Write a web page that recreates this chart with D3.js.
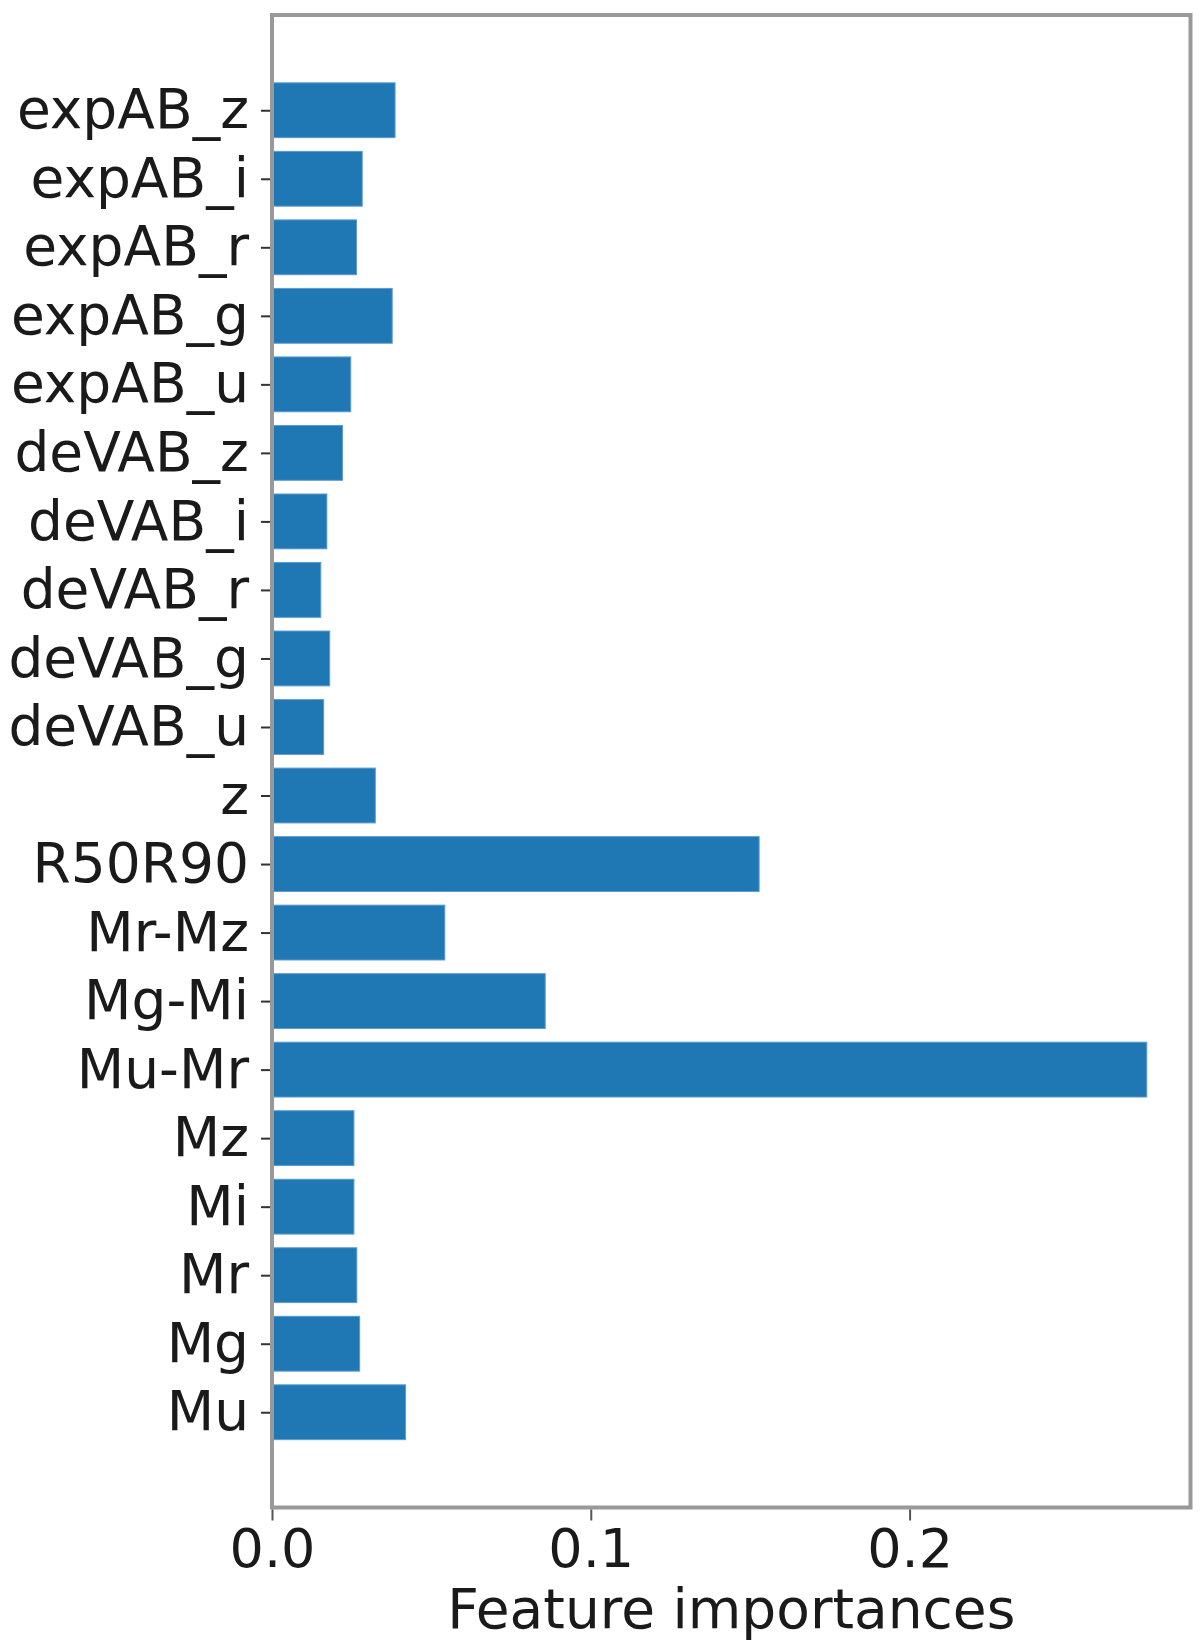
<!DOCTYPE html>
<html>
<head>
<meta charset="utf-8">
<script src="https://cdn.jsdelivr.net/npm/d3@7"></script>
<style>
  html, body { margin: 0; padding: 0; background: #fff; }
  svg { display: block; }
  text { font-family: "DejaVu Sans", sans-serif; fill: #1a1a1a; }
</style>
</head>
<body>
<svg id="chart" width="1200" height="1645"></svg>
<script>
// Data (bottom to top, as in the figure)
const categories = ["Mu","Mg","Mr","Mi","Mz","Mu-Mr","Mg-Mi","Mr-Mz","R50R90","z",
  "deVAB_u","deVAB_g","deVAB_r","deVAB_i","deVAB_z",
  "expAB_u","expAB_g","expAB_r","expAB_i","expAB_z"];
const importances = [0.0419,0.0275,0.0266,0.0257,0.0257,0.2744,0.0857,0.0542,0.1528,0.0324,
  0.0162,0.0181,0.0153,0.0172,0.0221,
  0.0247,0.0377,0.0265,0.0283,0.0386];
const xTicks = [0.0, 0.1, 0.2];
const xLabel = "Feature importances";

const svg = d3.select("#chart");
const L = 272, R = 1190.5, T = 15, B = 1507.5;
const n = categories.length;
const barH = 0.8;
const yPad = (n - 1 + barH) * 0.05;
const x = d3.scaleLinear().domain([0, d3.max(importances) * 1.05]).range([L, R]);
const y = d3.scaleLinear().domain([-barH/2 - yPad, n - 1 + barH/2 + yPad]).range([B, T]);

// bars
svg.append("g").selectAll("rect").data(importances).join("rect")
  .attr("x", x(0))
  .attr("y", (d, i) => y(i + barH/2))
  .attr("width", d => x(d) - x(0))
  .attr("height", (d, i) => y(i - barH/2) - y(i + barH/2))
  .attr("fill", "#1f77b4")
  .attr("stroke", "#5b9bd0")
  .attr("stroke-width", 1);

// frame
svg.append("rect")
  .attr("x", L).attr("y", T).attr("width", R - L).attr("height", B - T)
  .attr("fill", "none").attr("stroke", "#999").attr("stroke-width", 4);

// y axis
const yAxis = d3.axisLeft(y)
  .tickValues(d3.range(n))
  .tickFormat(i => categories[i])
  .tickSize(9).tickPadding(12);
const gy = svg.append("g").attr("transform", `translate(${L - 2},0)`).call(yAxis);
gy.select(".domain").remove();
gy.selectAll(".tick line").attr("stroke", "#333").attr("stroke-width", 2);
gy.selectAll(".tick text").attr("font-size", 55).attr("fill", "#1a1a1a")
  .attr("font-family", "DejaVu Sans, sans-serif");

// x axis
const xAxis = d3.axisBottom(x).tickValues(xTicks).tickFormat(d3.format(".1f"))
  .tickSize(11).tickPadding(8);
const gx = svg.append("g").attr("transform", `translate(0,${B + 2})`).call(xAxis);
gx.select(".domain").remove();
gx.selectAll(".tick line").attr("stroke", "#555").attr("stroke-width", 2);
gx.selectAll(".tick text").attr("font-size", 54).attr("fill", "#1a1a1a")
  .attr("font-family", "DejaVu Sans, sans-serif");

svg.append("text")
  .attr("x", (L + R) / 2).attr("y", 1628)
  .attr("text-anchor", "middle")
  .attr("font-size", 55)
  .text(xLabel);
</script>
</body>
</html>
